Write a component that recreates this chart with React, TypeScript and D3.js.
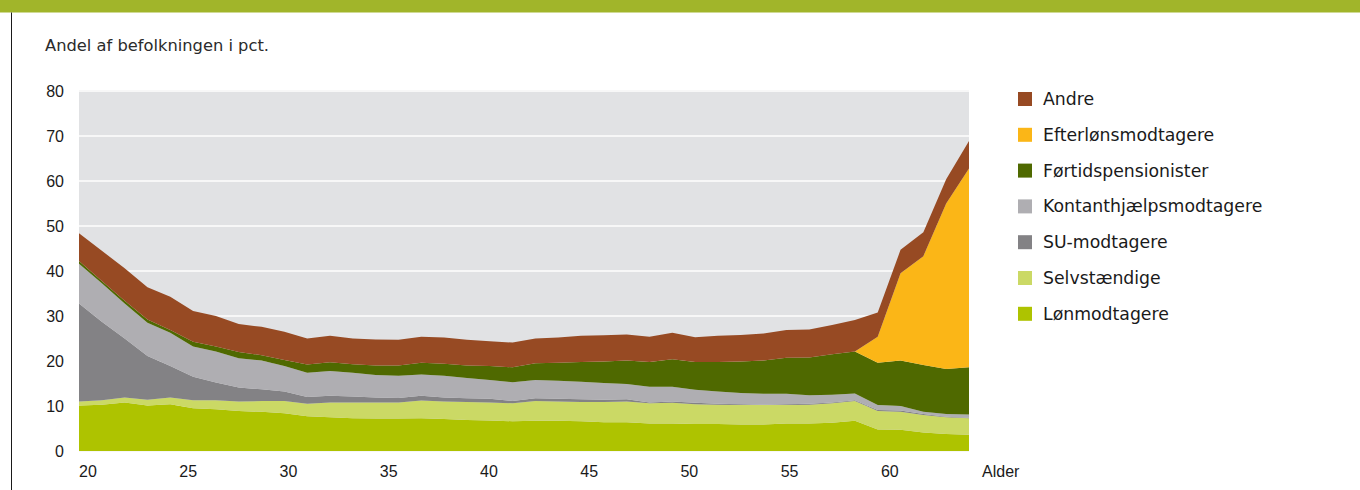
import React from "react";
import * as d3 from "d3";

// Share of population (pct.) by age, 40 observation points from left to right
const lonmodtagere = [10.1, 10.3, 10.8, 10.1, 10.4, 9.5, 9.3, 8.9, 8.7, 8.4, 7.7, 7.5, 7.3, 7.2, 7.2, 7.3, 7.1, 6.9, 6.8, 6.6, 6.7, 6.7, 6.6, 6.4, 6.4, 6.1, 6.1, 6.0, 6.0, 5.9, 5.9, 6.1, 6.1, 6.3, 6.7, 4.8, 4.7, 4.1, 3.8, 3.6];
const selvstaendige = [0.9, 1.0, 1.1, 1.3, 1.5, 1.8, 2.0, 2.1, 2.4, 2.7, 2.8, 3.3, 3.5, 3.6, 3.6, 3.9, 3.9, 4.0, 4.0, 4.0, 4.4, 4.3, 4.3, 4.5, 4.6, 4.5, 4.6, 4.4, 4.3, 4.3, 4.3, 4.1, 4.2, 4.3, 4.4, 4.1, 4.0, 3.9, 3.7, 3.7];
const suModtagere = [21.8, 17.4, 13.1, 9.7, 7.0, 5.2, 3.9, 3.1, 2.6, 2.1, 1.5, 1.5, 1.3, 1.1, 1.0, 1.1, 0.9, 0.8, 0.8, 0.5, 0.6, 0.6, 0.6, 0.5, 0.5, 0.2, 0.3, 0.3, 0.2, 0.2, 0.1, 0.2, 0.2, 0.2, 0.2, 0.2, 0.3, 0.2, 0.1, 0.1];
const kontanthjaelp = [8.8, 8.6, 7.8, 7.4, 7.4, 6.7, 6.9, 6.5, 6.4, 5.7, 5.4, 5.5, 5.3, 5.0, 4.9, 4.7, 4.8, 4.5, 4.2, 4.2, 4.1, 4.0, 3.9, 3.7, 3.4, 3.5, 3.3, 2.9, 2.7, 2.5, 2.4, 2.3, 1.9, 1.7, 1.5, 1.1, 1.0, 0.5, 0.6, 0.7];
const fortidspension = [0.6, 0.5, 0.6, 0.7, 0.6, 1.1, 1.1, 1.4, 1.2, 1.3, 1.8, 1.9, 1.9, 2.1, 2.3, 2.6, 2.7, 2.8, 3.1, 3.3, 3.7, 4.0, 4.4, 4.8, 5.2, 5.5, 6.1, 6.2, 6.6, 7.0, 7.4, 8.0, 8.4, 9.0, 9.3, 9.4, 10.1, 10.4, 10.0, 10.5];
const efterlon = [0, 0, 0, 0, 0, 0, 0, 0, 0, 0, 0, 0, 0, 0, 0, 0, 0, 0, 0, 0, 0, 0, 0, 0, 0, 0, 0, 0, 0, 0, 0, 0, 0, 0, 0, 5.8, 19.4, 24.2, 36.8, 44.2];
const andre = [6.2, 6.7, 7.2, 7.2, 7.4, 6.8, 6.8, 6.2, 6.3, 6.3, 5.8, 5.9, 5.7, 5.8, 5.7, 5.8, 5.8, 5.7, 5.5, 5.5, 5.5, 5.6, 5.8, 5.8, 5.8, 5.6, 5.9, 5.5, 5.8, 5.9, 6.0, 6.2, 6.2, 6.5, 7.0, 5.4, 5.2, 5.3, 5.4, 6.1];

const xTicks = [20, 25, 30, 35, 40, 45, 50, 55, 60];
const yTicks = [0, 10, 20, 30, 40, 50, 60, 70, 80];

const seriesKeys = ["lon", "selv", "su", "kont", "fort", "eft", "andre"];
const seriesNames: Record<string, string> = {
  lon: "Lønmodtagere",
  selv: "Selvstændige",
  su: "SU-modtagere",
  kont: "Kontanthjælpsmodtagere",
  fort: "Førtidspensionister",
  eft: "Efterlønsmodtagere",
  andre: "Andre",
};
const seriesColors: Record<string, string> = {
  lon: "#aec300",
  selv: "#cbd965",
  su: "#838285",
  kont: "#afaeb2",
  fort: "#4f6900",
  eft: "#fbb617",
  andre: "#974a23",
};
const legendOrder = ["andre", "eft", "fort", "kont", "su", "selv", "lon"];

const FONT = "'Liberation Sans', Arial, sans-serif";
const WIDE = "'DejaVu Sans', Verdana, sans-serif";

export default function App() {
  const W = 1360;
  const H = 490;
  const left = 79;
  const right = 969;
  const top = 91;
  const bottom = 451;

  const idx = lonmodtagere.map((_, i) => i);
  const rows = idx.map((i) => ({
    i,
    lon: lonmodtagere[i],
    selv: selvstaendige[i],
    su: suModtagere[i],
    kont: kontanthjaelp[i],
    fort: fortidspension[i],
    eft: efterlon[i],
    andre: andre[i],
  }));

  const x = d3.scalePoint<number>().domain(idx).range([left, right]);
  const y = d3.scaleLinear().domain([0, 80]).range([bottom, top]);
  const ageAxis = d3.scaleLinear().domain([20, 64]).range([88, 970]);

  const stacked = d3.stack<any>().keys(seriesKeys)(rows);
  const area = d3
    .area<any>()
    .x((d) => x(d.data.i) as number)
    .y0((d) => y(d[0]))
    .y1((d) => y(d[1]));

  return (
    <svg
      width={W}
      height={H}
      style={{ position: "absolute", left: 0, top: 0, background: "#fff" }}
    >
      <rect x={0} y={0} width={W} height={12.5} fill="#a1b52a" />
      <line x1={11.5} x2={11.5} y1={12.5} y2={H} stroke="#1a1a1a" strokeWidth={1} />

      <text x={45} y={51} fontFamily={WIDE} fontSize={16.3} fill="#2b2b2b">
        Andel af befolkningen i pct.
      </text>

      <rect x={left} y={top} width={right - left} height={bottom - top} fill="#e1e2e4" />
      {yTicks.map((t) => (
        <line
          key={"g" + t}
          x1={left}
          x2={right}
          y1={y(t)}
          y2={y(t)}
          stroke="#f7f7f7"
          strokeWidth={2}
        />
      ))}

      {stacked.map((s) => (
        <path key={s.key} d={area(s) as string} fill={seriesColors[s.key]} />
      ))}

      {yTicks.map((t) => (
        <text
          key={"y" + t}
          x={64}
          y={y(t) + 6}
          textAnchor="end"
          fontFamily={FONT}
          fontSize={16}
          fill="#1a1a1a"
        >
          {t}
        </text>
      ))}

      {xTicks.map((t) => (
        <text
          key={"x" + t}
          x={ageAxis(t)}
          y={477}
          textAnchor="middle"
          fontFamily={FONT}
          fontSize={16}
          fill="#1a1a1a"
        >
          {t}
        </text>
      ))}
      <text x={982} y={477} fontFamily={FONT} fontSize={16} fill="#1a1a1a">
        Alder
      </text>

      {legendOrder.map((k, j) => {
        const cy = 99 + j * 35.8;
        return (
          <g key={"l" + k}>
            <rect x={1018} y={cy - 7} width={14} height={14} fill={seriesColors[k]} />
            <text x={1043} y={cy + 6} fontFamily={WIDE} fontSize={17.3} fill="#1a1a1a">
              {seriesNames[k]}
            </text>
          </g>
        );
      })}
    </svg>
  );
}
